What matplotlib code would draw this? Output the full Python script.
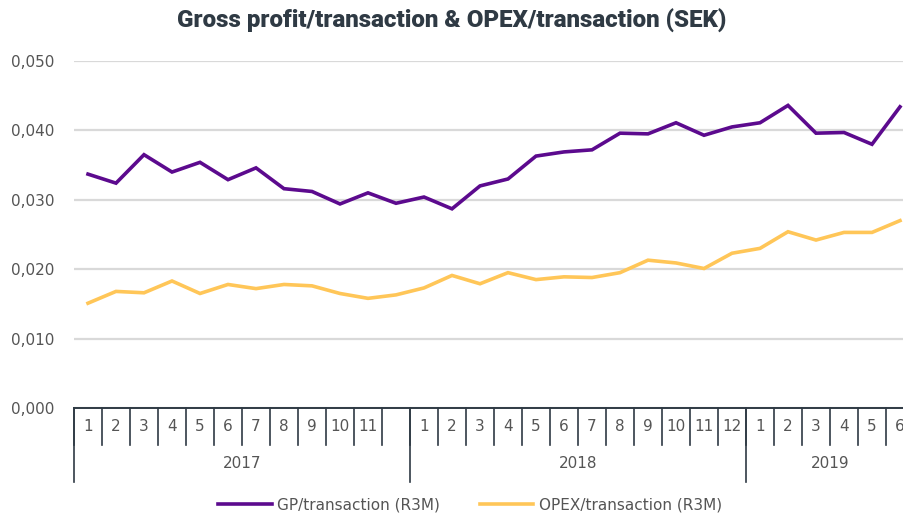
"""
Gross profit per transaction vs OPEX per transaction (SEK), rolling 3 months.
"""
import matplotlib.pyplot as plt
from matplotlib.transforms import blended_transform_factory

plt.rcParams['font.family'] = ['DejaVu Sans']

#month labels per year, 2017-12 is shown without a label
years = ['2017', '2018', '2019']
months_per_year = [12, 12, 6]
month_labels = [str(m) for m in range(1, 12)] + [''] \
    + [str(m) for m in range(1, 13)] \
    + [str(m) for m in range(1, 7)]

gp_per_tx = [0.0337, 0.0324, 0.0365, 0.0340, 0.0354, 0.0329, 0.0346, 0.0316,
             0.0312, 0.0294, 0.0310, 0.0295, 0.0304, 0.0287, 0.0320, 0.0330,
             0.0363, 0.0369, 0.0372, 0.0396, 0.0395, 0.0411, 0.0393, 0.0405,
             0.0411, 0.0436, 0.0396, 0.0397, 0.0380, 0.0434]
opex_per_tx = [0.0151, 0.0168, 0.0166, 0.0183, 0.0165, 0.0178, 0.0172, 0.0178,
               0.0176, 0.0165, 0.0158, 0.0163, 0.0173, 0.0191, 0.0179, 0.0195,
               0.0185, 0.0189, 0.0188, 0.0195, 0.0213, 0.0209, 0.0201, 0.0223,
               0.0230, 0.0254, 0.0242, 0.0253, 0.0253, 0.0270]

yticks = [0.0, 0.01, 0.02, 0.03, 0.04, 0.05]

PURPLE = '#5c0a8e'
YELLOW = '#ffc658'
TEXT = '#555555'
DARK = '#2f3a44'
FS = 11

fig = plt.figure(figsize=(9.04, 5.16), dpi=100)
ax = fig.add_axes([74 / 904, 1 - 408 / 516, 1 - 74 / 904, 347 / 516])

x = list(range(len(gp_per_tx)))
ax.plot(x, gp_per_tx, color=PURPLE, linewidth=2.6, solid_joinstyle='miter',
        label='GP/transaction (R3M)', zorder=3)
ax.plot(x, opex_per_tx, color=YELLOW, linewidth=2.6, solid_joinstyle='miter',
        label='OPEX/transaction (R3M)', zorder=3)

ax.set_xlim(-0.5, len(x) - 0.5 - 10 / 28)
ax.set_ylim(0, 0.05)
ax.set_yticks(yticks)
ax.set_yticklabels([f'{v:.3f}'.replace('.', ',') for v in yticks],
                   fontsize=FS, color=TEXT)
ax.tick_params(axis='y', length=0, pad=14)
ax.set_xticks([])
ax.grid(axis='y', color='#d9d9d9', linewidth=1.6)
ax.set_axisbelow(True)
for s in ['top', 'right', 'left']:
    ax.spines[s].set_visible(False)
ax.spines['bottom'].set_color(DARK)
ax.spines['bottom'].set_linewidth(1.4)

#two-level category axis drawn below the plot
trans = blended_transform_factory(ax.transData, ax.transAxes)
h_month = 37 / 347
h_year = 74 / 347
for i, lab in enumerate(month_labels):
    ax.text(i, -0.5 * h_month, lab, transform=trans, ha='center', va='center',
            fontsize=FS, color=TEXT)
    ax.plot([i - 0.5, i - 0.5], [0, -h_month], transform=trans, color=DARK,
            linewidth=1.2, clip_on=False)
start = 0
for yr, n in zip(years, months_per_year):
    ax.plot([start - 0.5, start - 0.5], [0, -h_year], transform=trans,
            color=DARK, linewidth=1.2, clip_on=False)
    ax.text(start + n / 2 - 0.5, -(h_month + h_year) / 2, yr, transform=trans,
            ha='center', va='center', fontsize=FS, color=TEXT)
    start += n

fig.text(0.5, 1 - 21 / 516, 'Gross profit/transaction & OPEX/transaction (SEK)',
         ha='center', va='center', fontsize=17.4, fontweight='black',
         color=DARK, family='Roboto')

leg = fig.legend(loc='center', bbox_to_anchor=(0.52, 1 - 505 / 516), ncol=2,
                 frameon=False, fontsize=FS, handlelength=3.5,
                 columnspacing=2.6, handletextpad=0.35)
for t in leg.get_texts():
    t.set_color(TEXT)

plt.savefig('out.png', dpi=100)
plt.close()
